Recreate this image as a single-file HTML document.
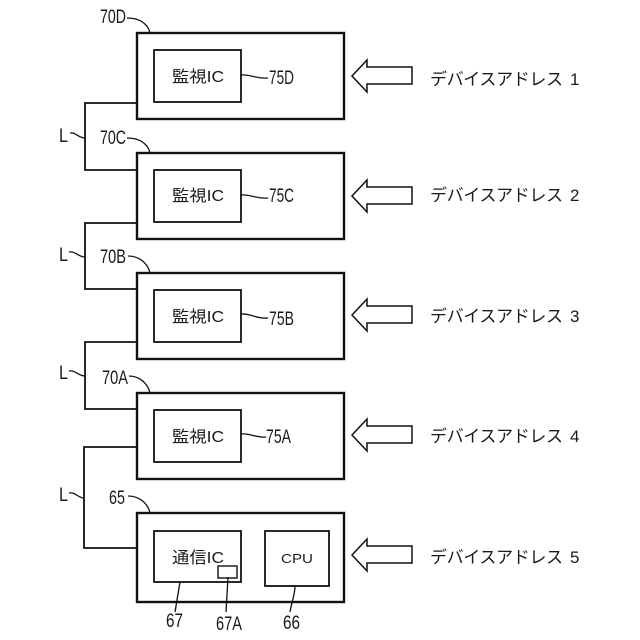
<!DOCTYPE html>
<html><head><meta charset="utf-8"><style>html,body{margin:0;padding:0;background:#fff}svg{display:block}
text{font-family:"Liberation Sans","Noto Sans CJK JP",sans-serif;fill:#1a1a1a}</style></head><body>
<svg width="640" height="640" viewBox="0 0 640 640" xmlns="http://www.w3.org/2000/svg">
<defs>
<g id="arrow"><path d="M352 76 L367 60 L367 67 L412 67 L412 84 L367 84 L367 92 Z" fill="#fff" stroke="#111" stroke-width="1.5"/></g>
</defs>
<g fill="none" stroke="#111">
<g stroke-width="2.4">
<rect x="137" y="33" width="207" height="86"/>
<rect x="137" y="153" width="207" height="86"/>
<rect x="137" y="273" width="207" height="86"/>
<rect x="137" y="393" width="207" height="86"/>
<rect x="137" y="513" width="207" height="89"/>
</g>
<g stroke-width="1.8">
<rect x="154" y="50" width="87" height="52"/>
<rect x="154" y="170" width="87" height="52"/>
<rect x="154" y="290" width="87" height="52"/>
<rect x="154" y="410" width="87" height="52"/>
<rect x="154" y="531" width="87" height="51"/>
<rect x="265" y="531" width="64" height="55"/>
<rect x="218" y="566" width="19" height="12" stroke-width="1.4"/>
<path d="M137 103H85V170H137"/>
<path d="M137 223H85V289H137"/>
<path d="M137 342H85V409H137"/>
<path d="M137 447H84V548H137"/>
</g>
<g stroke-width="1.3">
<path d="M127 18C140 18 148 24 150 33"/>
<path d="M127 138C140 138 148 144 150 153"/>
<path d="M128 256C140 256 148 264 150 273"/>
<path d="M129 376C140 376 148 384 150 393"/>
<path d="M128 496C140 496 148 504 150 513"/>
<path d="M241 75C250 74 256 79 268 78"/>
<path d="M241 195C250 194 256 199 268 198"/>
<path d="M241 314C250 313 256 319 268 318"/>
<path d="M241 434C250 433 256 438 266 437"/>
<path d="M70 133C76 132 78 138 85 138"/>
<path d="M69 252C76 251 78 257 85 257"/>
<path d="M69 371C76 370 78 376 85 376"/>
<path d="M69 493C76 492 78 498 84 498"/>
<path d="M180 582L175 612"/>
<path d="M228 577L226 612"/>
<path d="M295 586C295 595 292 600 290 612"/>
</g>
</g>
<use href="#arrow"/><use href="#arrow" y="120"/><use href="#arrow" y="239"/><use href="#arrow" y="359"/><use href="#arrow" y="479"/>

<g font-size="16">
<text x="172" y="82" textLength="52" lengthAdjust="spacingAndGlyphs">監視IC</text>
<text x="172" y="201" textLength="52" lengthAdjust="spacingAndGlyphs">監視IC</text>
<text x="172" y="322" textLength="52" lengthAdjust="spacingAndGlyphs">監視IC</text>
<text x="172" y="442" textLength="52" lengthAdjust="spacingAndGlyphs">監視IC</text>
<text x="172" y="563" textLength="52" lengthAdjust="spacingAndGlyphs">通信IC</text>
</g>
<text x="281" y="563" font-size="13" textLength="32" lengthAdjust="spacingAndGlyphs">CPU</text>

<g font-size="19">
<text x="100" y="23" textLength="26" lengthAdjust="spacingAndGlyphs">70D</text>
<text x="100" y="144" textLength="26" lengthAdjust="spacingAndGlyphs">70C</text>
<text x="100" y="263" textLength="26" lengthAdjust="spacingAndGlyphs">70B</text>
<text x="102" y="384" textLength="26" lengthAdjust="spacingAndGlyphs">70A</text>
<text x="109" y="504" textLength="16" lengthAdjust="spacingAndGlyphs">65</text>
<text x="269" y="84" textLength="25" lengthAdjust="spacingAndGlyphs">75D</text>
<text x="269" y="202" textLength="25" lengthAdjust="spacingAndGlyphs">75C</text>
<text x="269" y="325" textLength="25" lengthAdjust="spacingAndGlyphs">75B</text>
<text x="266" y="443" textLength="25" lengthAdjust="spacingAndGlyphs">75A</text>
<text x="59" y="142" textLength="9" lengthAdjust="spacingAndGlyphs">L</text>
<text x="59" y="261" textLength="9" lengthAdjust="spacingAndGlyphs">L</text>
<text x="59" y="379" textLength="9" lengthAdjust="spacingAndGlyphs">L</text>
<text x="59" y="501" textLength="9" lengthAdjust="spacingAndGlyphs">L</text>
<text x="166" y="627" textLength="17" lengthAdjust="spacingAndGlyphs">67</text>
<text x="216" y="630" textLength="26" lengthAdjust="spacingAndGlyphs">67A</text>
<text x="283" y="629" textLength="17" lengthAdjust="spacingAndGlyphs">66</text>
</g>

<g font-size="17">
<text x="430" y="85" textLength="133">デバイスアドレス</text><text x="570" y="85">1</text>
<text x="430" y="201" textLength="133">デバイスアドレス</text><text x="570" y="201">2</text>
<text x="430" y="322" textLength="133">デバイスアドレス</text><text x="570" y="322">3</text>
<text x="430" y="442" textLength="133">デバイスアドレス</text><text x="570" y="442">4</text>
<text x="430" y="563" textLength="133">デバイスアドレス</text><text x="570" y="563">5</text>
</g>
</svg>
</body></html>
